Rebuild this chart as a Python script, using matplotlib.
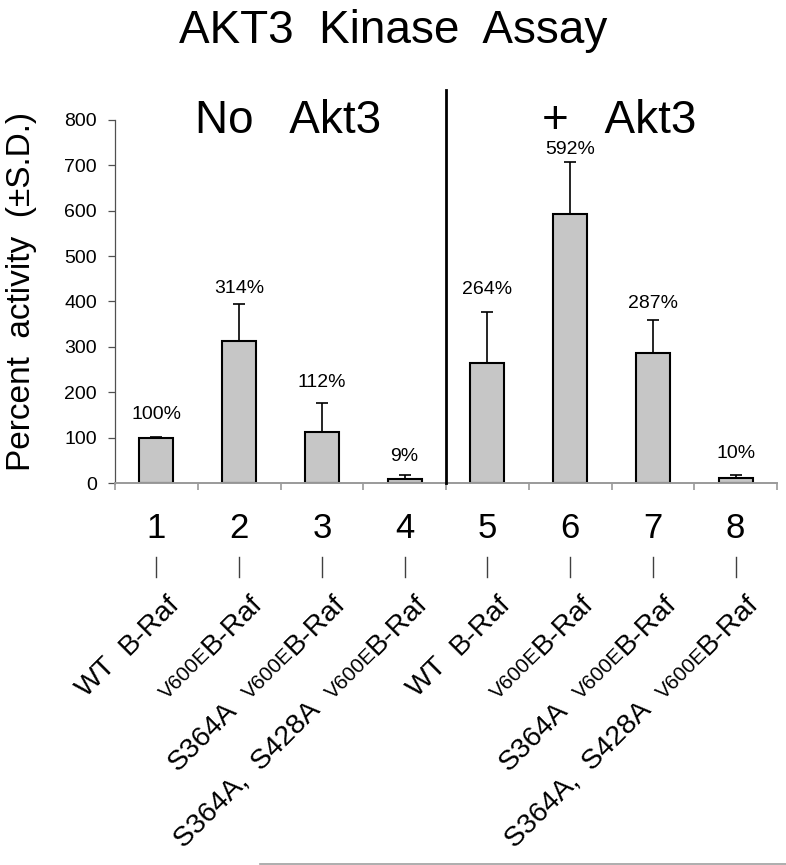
import matplotlib
matplotlib.use('Agg')
import matplotlib.pyplot as plt
from matplotlib.font_manager import FontProperties
from matplotlib.transforms import blended_transform_factory, IdentityTransform
from matplotlib.lines import Line2D
import numpy as np

plt.rcParams['font.family'] = ['Liberation Sans', 'DejaVu Sans']

# ---- data ----
lanes = ['1', '2', '3', '4', '5', '6', '7', '8']
activity = [100, 314, 112, 9, 264, 592, 287, 10]
sd = [2, 80, 65, 9, 112, 116, 72, 8]
pct_labels = ['100%', '314%', '112%', '9%', '264%', '592%', '287%', '10%']
construct_prefix = ['WT', '', 'S364A', 'S364A,  S428A', 'WT', '', 'S364A', 'S364A,  S428A']
construct_mut = ['', 'V600E', 'V600E', 'V600E', '', 'V600E', 'V600E', 'V600E']
construct_name = ['B-Raf'] * 8
group_titles = ['No   Akt3', '+   Akt3']
title = 'AKT3  Kinase  Assay'
ylabel = 'Percent  activity  (\u00b1S.D.)'
yticks = [0, 100, 200, 300, 400, 500, 600, 700, 800]

# ---- layout ----
W, H = 786, 865
DPI = 100
label_offsets_px = [22, 16, 20, 18, 23, 12, 17, 21]

fig = plt.figure(figsize=(W / DPI, H / DPI), dpi=DPI)
ax = fig.add_axes([115 / W, 1 - 483 / H, (777 - 115) / W, (483 - 120) / H])
x = np.arange(1, len(lanes) + 1)

ax.bar(x, activity, width=0.41, color='#C6C6C6', edgecolor='black',
       linewidth=1.5, zorder=2)
ax.errorbar(x, activity, yerr=[np.zeros(len(x)), sd], fmt='none', ecolor='black',
            elinewidth=1.2, capsize=4.5, capthick=1.2, zorder=3)

ax.set_xlim(0.5, len(lanes) + 0.5)
ax.set_ylim(yticks[0], yticks[-1])
ax.set_yticks(yticks)
ax.set_xticks(np.arange(0.5, len(lanes) + 0.6, 1))
ax.set_xticklabels([])
ax.tick_params(axis='y', direction='out', length=5, width=0.9, color='#505050',
               labelsize=14, pad=8, labelcolor='black')
ax.tick_params(axis='x', direction='out', length=5, width=1.2, color='#9a9a9a')
for s in ['top', 'right']:
    ax.spines[s].set_visible(False)
ax.spines['left'].set_color('#505050')
ax.spines['left'].set_linewidth(0.9)
ax.spines['bottom'].set_color('#9a9a9a')
ax.spines['bottom'].set_linewidth(1.4)

# data labels
for xi, v, e, lab, off in zip(x, activity, sd, pct_labels, label_offsets_px):
    ax.annotate(lab, (xi, v + e), xytext=(0, off * 72 / DPI), textcoords='offset points',
                ha='center', va='center', fontsize=14)

# divider between groups
top_val = (483 - 90) / ((483 - 120) / yticks[-1])
ax.plot([4.5, 4.5], [0, top_val], color='black', lw=2.0, clip_on=False, zorder=4)

# titles
fig.text(393 / W, 1 - 43 / H, title, ha='center', va='baseline', fontsize=33)
fig.text(288 / W, 1 - 133 / H, group_titles[0], ha='center', va='baseline', fontsize=33)
fig.text(619 / W, 1 - 133 / H, group_titles[1], ha='center', va='baseline', fontsize=33)
fig.text(22 / W, 1 - 291 / H, ylabel, rotation=90, ha='center', va='center', fontsize=24)

# lane numbers and small marks
btr = blended_transform_factory(ax.transData, fig.transFigure)
for xi, lab in zip(x, lanes):
    fig.text(xi, 1 - 528 / H, lab, transform=btr, ha='center', va='center', fontsize=25)
    fig.add_artist(Line2D([xi, xi], [1 - 557 / H, 1 - 577 / H], transform=btr,
                          color='#404040', lw=1.0))

# construct labels (mixed sizes, rotated 45 deg)
fig.canvas.draw()
renderer = fig.canvas.get_renderer()
big, small = 20.5, 15
c45 = np.cos(np.pi / 4)
space_px = lambda size: 0.2778 * size * DPI / 72
for xi, pre, mut, name in zip(x, construct_prefix, construct_mut, construct_name):
    cx = ax.transData.transform((xi, 0))[0]
    px, py = cx + 24, H - 604
    segs = [(name, big, 0.0), (mut, small, 0.0), (pre, big, 2 * space_px(big))]
    for s, size, gap in segs:
        if not s:
            continue
        px -= gap * c45
        py -= gap * c45
        fig.text(px, py, s, transform=IdentityTransform(), rotation=45,
                 rotation_mode='anchor', ha='right', va='baseline', fontsize=size)
        w, h, d = renderer.get_text_width_height_descent(
            s, FontProperties(family=['Liberation Sans'], size=size), ismath=False)
        px -= w * c45
        py -= w * c45

# bottom gray rule
fig.add_artist(Line2D([260 / W, 1.0], [1 - 864 / H, 1 - 864 / H],
                      transform=fig.transFigure, color='#a0a0a0', lw=1.2))

fig.savefig('out.png', dpi=DPI)
